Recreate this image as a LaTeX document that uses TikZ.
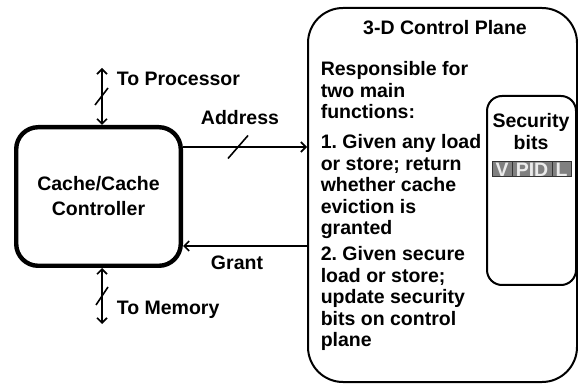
\documentclass[tikz,border=0pt]{standalone}
\usepackage{fontspec}
\setmainfont{Liberation Sans}
\usetikzlibrary{arrows.meta,positioning}
\frenchspacing

\begin{document}
\begin{tikzpicture}[x=1pt,y=-1pt,>={Straight Barb[length=5pt,width=10pt]},line width=1.6pt,
  every node/.style={font=\fontsize{19.5}{21.4}\selectfont\bfseries,inner sep=0pt},
  box/.style={draw,rounded corners=#1},
  bitcell/.style={draw=black!80,fill=black!50,text=black!8,line width=1pt,
    minimum height=15pt,outer sep=0pt}]
\useasboundingbox (0,0) rectangle (578,387);
% ---- cache side ----
\node[box=22pt,line width=4.4pt,minimum width=164.6pt,minimum height=138.6pt,
  align=center,font=\fontsize{19.5}{25}\selectfont\bfseries] (cache) at (98.5,196.5)
  {Cache/Cache\\Controller};
\coordinate (proc) at (102,68);
\coordinate (mem) at (102,324);
\draw[<->] (proc) -- (proc |- cache.north);
\draw[<->] (mem) -- (mem |- cache.south);
\node[anchor=west] (toproc) at (116,79) {To Processor};
\node[anchor=west] (tomem) at (116,310) {To Memory};
% ---- control plane ----
\node[box=35pt,line width=2pt,minimum width=269pt,minimum height=374pt] (plane) at (442.5,195) {};
\node (title) at (445,28) {3-D Control Plane};
\node[anchor=north west,align=left] (func) at (320,61) {Responsible for\\two main\\functions:};
\node[anchor=north west,align=left] (one) at (320,134)
  {1. Given any load\\or store; return\\whether cache\\eviction is\\granted};
\node[anchor=north west,align=left] (two) at (320,246)
  {2. Given secure\\load or store;\\update security\\bits on control\\plane};
% ---- security bits ----
\node[box=15pt,line width=2pt,minimum width=89pt,minimum height=189pt] (sec) at (531.5,190.5) {};
\node[align=center,font=\fontsize{19.5}{22}\selectfont\bfseries] (sectext) at (531,132) {Security\\bits};
\node[bitcell,minimum width=20pt] (v) at (502,169.5) {V};
\node[bitcell,minimum width=40pt,right=0pt of v] (pid) {PID};
\node[bitcell,minimum width=19pt,right=0pt of pid] (l) {L};
% ---- address / grant ----
\coordinate (addr) at ([yshift=49.5pt]cache.east);
\coordinate (gnt) at ([yshift=-49.5pt]cache.east);
\draw[->] (addr) -- (addr -| plane.west);
\draw[->] (gnt -| plane.west) -- (gnt);
\node (addrlbl) at (240,118) {Address};
\node (gntlbl) at (237,263) {Grant};
% bus marks
\foreach \sx/\sy/\dx/\dy in {101.5/96.5/6.5/8.5,238/147/10/11.5,102/296/6/9}{
  \draw (\sx,\sy) +(-\dx,\dy) -- +(\dx,-\dy);}
\end{tikzpicture}
\end{document}
